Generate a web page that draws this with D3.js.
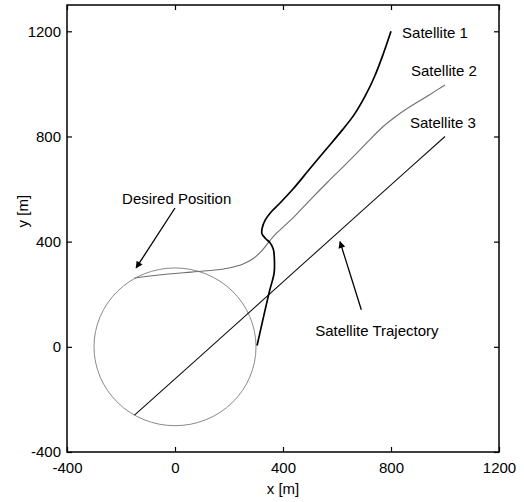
<!DOCTYPE html>
<meta charset="utf-8">
<script src="https://d3js.org/d3.v7.min.js"></script>
<style>
  body { margin: 0; background: #fff; }
  text { font-family: "Liberation Sans", Arial, sans-serif; }
</style>
<div id="chart"></div>
<script>

// tick values
var xTicks = [-400, 0, 400, 800, 1200];
var yTicks = [-400, 0, 400, 800, 1200];

// satellite paths [x, y] in metres
var sat1 = [[800,1200],[770,1110],[740,1030],[705,955],[665,885],[620,825],[563,755],[500,678],
            [437,600],[390,548],[355,512],[334,482],[323,452],[322,430],[336,411],[352,396],
            [364,372],[368,335],[367,280],[350,212],[304,5]];
var sat2 = [[1000,996],[940,957],[870,913],[820,878],[770,837],[700,765],[630,692],[563,624],
            [500,558],[437,490],[370,426],[350,402],[322,366],[290,336],[250,314],[200,300],
            [140,291],[60,284],[-40,275],[-150,262]];
var sat3 = [[1000,800],[770,588],[500,339],[280,136],[-150,-260]];

// desired formation circle
var circleRadius = 300;

// annotations
var labels = [
  {text: "Satellite 1", x: 841, y: 1174},
  {text: "Satellite 2", x: 874, y: 1030},
  {text: "Satellite 3", x: 870, y: 832},
  {text: "Desired Position", x: -196, y: 543},
  {text: "Satellite Trajectory", x: 519, y: 41}
];
var arrows = [
  {from: [0, 528], to: [-144, 300]},
  {from: [690, 141], to: [611, 400]}
];

var margin = {top: 5, right: 25, bottom: 50, left: 67},
    width = 524 - margin.left - margin.right,
    height = 502 - margin.top - margin.bottom;

var svg = d3.select("#chart")
  .append("svg")
    .attr("width", 524)
    .attr("height", 502)
  .append("g")
    .attr("transform", "translate(" + margin.left + "," + margin.top + ")");

var x = d3.scaleLinear().domain([-400, 1200]).range([0, width]);
var y = d3.scaleLinear().domain([-400, 1300]).range([height, 0]);
var fmt = function(d) { return String(d); };

svg.append("defs").append("marker")
    .attr("id", "head")
    .attr("viewBox", "0 0 10 10")
    .attr("refX", 9).attr("refY", 5)
    .attr("markerWidth", 11).attr("markerHeight", 7)
    .attr("markerUnits", "userSpaceOnUse")
    .attr("orient", "auto")
  .append("path")
    .attr("d", "M0,0 L10,5 L0,10 z")
    .attr("fill", "#000");

// axes, ticks pointing inward on all four sides
function styleAxis(g) {
  g.select(".domain").remove();
  g.selectAll(".tick line").attr("stroke", "#000").attr("stroke-width", 1.2);
  g.selectAll("text").attr("font-size", 15).attr("fill", "#000");
}
svg.append("g")
    .attr("transform", "translate(0," + height + ")")
    .call(d3.axisBottom(x).tickValues(xTicks).tickFormat(fmt).tickSizeInner(-5).tickSizeOuter(0).tickPadding(10))
    .call(styleAxis);
svg.append("g")
    .call(d3.axisLeft(y).tickValues(yTicks).tickFormat(fmt).tickSizeInner(-5).tickSizeOuter(0).tickPadding(6))
    .call(styleAxis);
svg.append("g")
    .call(d3.axisTop(x).tickValues(xTicks).tickSizeInner(-5).tickSizeOuter(0).tickFormat(""))
    .call(styleAxis);
svg.append("g")
    .attr("transform", "translate(" + width + ",0)")
    .call(d3.axisRight(y).tickValues(yTicks).tickSizeInner(-5).tickSizeOuter(0).tickFormat(""))
    .call(styleAxis);

svg.append("rect")
    .attr("width", width).attr("height", height)
    .attr("fill", "none").attr("stroke", "#000").attr("stroke-width", 1.5);

// desired position circle (drawn through the scales, so it is an ellipse on screen)
svg.append("ellipse")
    .attr("cx", x(0)).attr("cy", y(0))
    .attr("rx", x(circleRadius) - x(0))
    .attr("ry", y(0) - y(circleRadius))
    .attr("fill", "none").attr("stroke", "#8a8a8a").attr("stroke-width", 1);

var line = d3.line()
    .x(function(d) { return x(d[0]); })
    .y(function(d) { return y(d[1]); })
    .curve(d3.curveCatmullRom.alpha(0.5));

svg.append("path").datum(sat3)
    .attr("d", line).attr("fill", "none").attr("stroke", "#111").attr("stroke-width", 1.1);
svg.append("path").datum(sat2)
    .attr("d", line).attr("fill", "none").attr("stroke", "#6e6e6e").attr("stroke-width", 1.1);
svg.append("path").datum(sat1)
    .attr("d", line).attr("fill", "none").attr("stroke", "#000").attr("stroke-width", 1.7);

// labels and arrows
svg.selectAll(".lbl")
  .data(labels)
  .enter()
  .append("text")
    .attr("class", "lbl")
    .attr("x", function(d) { return x(d.x); })
    .attr("y", function(d) { return y(d.y); })
    .attr("font-size", 15)
    .text(function(d) { return d.text; });

svg.selectAll(".arrow")
  .data(arrows)
  .enter()
  .append("line")
    .attr("class", "arrow")
    .attr("x1", function(d) { return x(d.from[0]); })
    .attr("y1", function(d) { return y(d.from[1]); })
    .attr("x2", function(d) { return x(d.to[0]); })
    .attr("y2", function(d) { return y(d.to[1]); })
    .attr("stroke", "#000").attr("stroke-width", 1.3)
    .attr("marker-end", "url(#head)");

// axis titles
svg.append("text")
    .attr("x", x(400)).attr("y", height + 42)
    .attr("text-anchor", "middle").attr("font-size", 15)
    .text("x [m]");
svg.append("text")
    .attr("transform", "translate(" + (-39) + "," + (y(516)) + ") rotate(-90)")
    .attr("text-anchor", "middle").attr("font-size", 15)
    .text("y [m]");

</script>
